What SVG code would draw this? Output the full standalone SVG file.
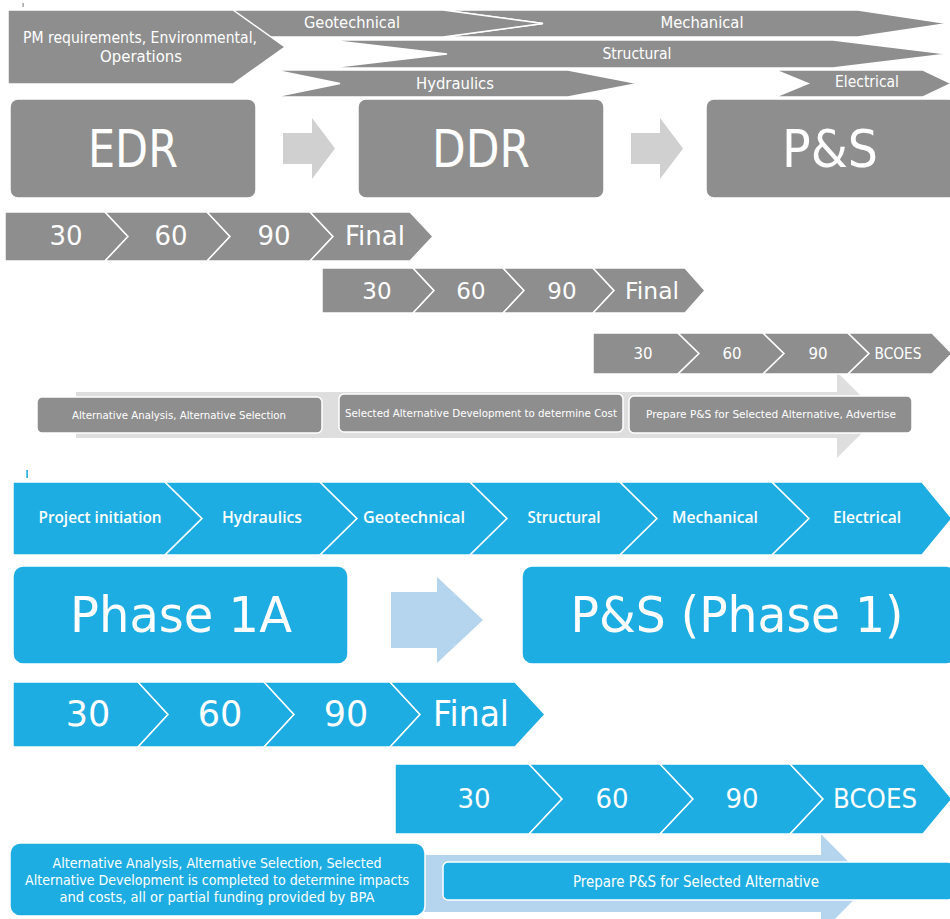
<svg xmlns="http://www.w3.org/2000/svg" width="950" height="919" viewBox="0 0 950 919">
<style>
.g{fill:#8e8e8e;stroke:#fff;stroke-width:1.5}
.b{fill:#1eade2;stroke:#fff;stroke-width:1.5}
.lg{fill:#d0d0d0}
.lg2{fill:#dedede}
.lb{fill:#b5d5ee}
text{font-family:"DejaVu Sans","Open Sans",sans-serif;fill:#fff;text-anchor:middle}
.bold{font-family:"Open Sans","DejaVu Sans",sans-serif;font-weight:600}
</style>
<rect width="950" height="919" fill="#fff"/>
<rect x="22.5" y="3" width="1.2" height="4" fill="#8e8e8e"/>
<rect x="26.3" y="470" width="1.6" height="8" fill="#1eade2"/>

<g id="connectors">
  <polygon class="lg" points="283,133 312,133 312,118 335,148.5 312,179 312,164 283,164"/>
  <polygon class="lg" points="631,133 660,133 660,118 683,148.5 660,179 660,164 631,164"/>
  <polygon class="lg2" points="76,392 837,392 837,372 880,415 837,458 837,438 76,438"/>
  <polygon class="lb" points="391,592 437,592 437,577 483,620 437,663 437,648 391,648"/>
  <polygon class="lb" points="200,855 821,855 821,834 870,883.5 821,933 821,912 200,912"/>
</g>

<g id="mechanical"><polygon class="g" points="443,10 858,10 948,23.5 858,37 443,37 543,23.5"/><text x="702" y="28" font-size="15" textLength="83" lengthAdjust="spacingAndGlyphs">Mechanical</text></g>
<g id="geotechnical"><polygon class="g" points="200,10 443,10 543,23.5 443,37 200,37"/><text x="352" y="28" font-size="15" textLength="96" lengthAdjust="spacingAndGlyphs">Geotechnical</text></g>
<g id="structural"><polygon class="g" points="328,40 833,40 948,54 833,68 328,68 447,54"/><text x="637" y="59" font-size="15" textLength="69" lengthAdjust="spacingAndGlyphs">Structural</text></g>
<g id="hydraulics"><polygon class="g" points="274,70 568,70 638,83.5 568,97 274,97 340,83.5"/><text x="455" y="89" font-size="15" textLength="78" lengthAdjust="spacingAndGlyphs">Hydraulics</text></g>
<g id="electrical"><polygon class="g" points="775,70 923,70 951,83.5 923,97 775,97 808,83.5"/><text x="867" y="87" font-size="15" textLength="64" lengthAdjust="spacingAndGlyphs">Electrical</text></g>
<g id="pm"><polygon class="g" points="8,10 233,10 285,47 233,84 8,84"/><text x="140" y="43" font-size="15" textLength="234" lengthAdjust="spacingAndGlyphs">PM requirements, Environmental,</text><text x="141" y="62" font-size="15" textLength="82" lengthAdjust="spacingAndGlyphs">Operations</text></g>

<g id="edr"><rect class="g" x="10" y="99" width="246" height="99" rx="8"/><text x="133" y="167" font-size="52" textLength="90" lengthAdjust="spacingAndGlyphs">EDR</text></g>
<g id="ddr"><rect class="g" x="358" y="99" width="246" height="99" rx="8"/><text x="481" y="167" font-size="52" textLength="98" lengthAdjust="spacingAndGlyphs">DDR</text></g>
<g id="ps-top"><rect class="g" x="706" y="99" width="250" height="99" rx="8"/><text x="830" y="167" font-size="52" textLength="96" lengthAdjust="spacingAndGlyphs">P&amp;S</text></g>

<g id="edr-30"><polygon class="g" points="5,212 105,212 128,236.5 105,261 5,261"/><text x="66" y="245" font-size="26">30</text></g>
<g id="edr-60"><polygon class="g" points="105,212 207,212 230,236.5 207,261 105,261 128,236.5"/><text x="171" y="245" font-size="26">60</text></g>
<g id="edr-90"><polygon class="g" points="207,212 310,212 333,236.5 310,261 207,261 230,236.5"/><text x="274" y="245" font-size="26">90</text></g>
<g id="edr-final"><polygon class="g" points="310,212 410,212 433,236.5 410,261 310,261 333,236.5"/><text x="375" y="245" font-size="26" textLength="60" lengthAdjust="spacingAndGlyphs">Final</text></g>

<g id="ddr-30"><polygon class="g" points="322,268 413,268 434,290.5 413,313 322,313"/><text x="377" y="299" font-size="23">30</text></g>
<g id="ddr-60"><polygon class="g" points="413,268 503,268 524,290.5 503,313 413,313 434,290.5"/><text x="471" y="299" font-size="23">60</text></g>
<g id="ddr-90"><polygon class="g" points="503,268 593,268 614,290.5 593,313 503,313 524,290.5"/><text x="562" y="299" font-size="23">90</text></g>
<g id="ddr-final"><polygon class="g" points="593,268 685,268 705,290.5 685,313 593,313 614,290.5"/><text x="652" y="299" font-size="23" textLength="54" lengthAdjust="spacingAndGlyphs">Final</text></g>

<g id="ps-30"><polygon class="g" points="593,333 678,333 699,353.5 678,374 593,374"/><text x="643" y="359" font-size="15">30</text></g>
<g id="ps-60"><polygon class="g" points="678,333 763,333 784,353.5 763,374 678,374 699,353.5"/><text x="732" y="359" font-size="15">60</text></g>
<g id="ps-90"><polygon class="g" points="763,333 848,333 869,353.5 848,374 763,374 784,353.5"/><text x="818" y="359" font-size="15">90</text></g>
<g id="ps-bcoes"><polygon class="g" points="848,333 932,333 952,353.5 932,374 848,374 869,353.5"/><text x="898" y="359" font-size="15" textLength="47" lengthAdjust="spacingAndGlyphs">BCOES</text></g>

<g id="alt-analysis"><rect class="g" x="37" y="397" width="285" height="36" rx="5"/><text x="179" y="419" font-size="11" textLength="214" lengthAdjust="spacingAndGlyphs">Alternative Analysis, Alternative Selection</text></g>
<g id="alt-dev"><rect class="g" x="339" y="394" width="284" height="38" rx="5"/><text x="481" y="417" font-size="11" textLength="272" lengthAdjust="spacingAndGlyphs">Selected Alternative Development to determine Cost</text></g>
<g id="prepare-adv"><rect class="g" x="629" y="396" width="283" height="37" rx="5"/><text x="771" y="418" font-size="11" textLength="250" lengthAdjust="spacingAndGlyphs">Prepare P&amp;S for Selected Alternative, Advertise</text></g>

<g id="b-init"><polygon class="b" points="13,482 165,482 202,518.5 165,555 13,555"/><text class="bold" x="100" y="523" font-size="17" textLength="123" lengthAdjust="spacingAndGlyphs">Project initiation</text></g>
<g id="b-hyd"><polygon class="b" points="165,482 320,482 357,518.5 320,555 165,555 202,518.5"/><text class="bold" x="262" y="523" font-size="17" textLength="80" lengthAdjust="spacingAndGlyphs">Hydraulics</text></g>
<g id="b-geo"><polygon class="b" points="320,482 470,482 507,518.5 470,555 320,555 357,518.5"/><text class="bold" x="414" y="523" font-size="17" textLength="102" lengthAdjust="spacingAndGlyphs">Geotechnical</text></g>
<g id="b-str"><polygon class="b" points="470,482 620,482 657,518.5 620,555 470,555 507,518.5"/><text class="bold" x="564" y="523" font-size="17" textLength="73" lengthAdjust="spacingAndGlyphs">Structural</text></g>
<g id="b-mech"><polygon class="b" points="620,482 772,482 809,518.5 772,555 620,555 657,518.5"/><text class="bold" x="715" y="523" font-size="17" textLength="86" lengthAdjust="spacingAndGlyphs">Mechanical</text></g>
<g id="b-elec"><polygon class="b" points="772,482 922,482 952,518.5 922,555 772,555 809,518.5"/><text class="bold" x="867" y="523" font-size="17" textLength="68" lengthAdjust="spacingAndGlyphs">Electrical</text></g>

<g id="phase1a"><rect class="b" x="13" y="566" width="335" height="98" rx="10"/><text x="181" y="632" font-size="50" textLength="222" lengthAdjust="spacingAndGlyphs">Phase 1A</text></g>
<g id="ps-phase1"><rect class="b" x="522" y="566" width="434" height="98" rx="10"/><text x="737" y="632" font-size="50" textLength="333" lengthAdjust="spacingAndGlyphs">P&amp;S (Phase 1)</text></g>

<g id="p1-30"><polygon class="b" points="13,682 138,682 168,714.5 138,747 13,747"/><text x="88" y="726" font-size="35">30</text></g>
<g id="p1-60"><polygon class="b" points="138,682 264,682 294,714.5 264,747 138,747 168,714.5"/><text x="220" y="726" font-size="35">60</text></g>
<g id="p1-90"><polygon class="b" points="264,682 390,682 420,714.5 390,747 264,747 294,714.5"/><text x="346" y="726" font-size="35">90</text></g>
<g id="p1-final"><polygon class="b" points="390,682 515,682 545,714.5 515,747 390,747 420,714.5"/><text x="471" y="726" font-size="35" textLength="76" lengthAdjust="spacingAndGlyphs">Final</text></g>

<g id="p2-30"><polygon class="b" points="395,764 529,764 562,799 529,834 395,834"/><text x="474" y="808" font-size="26">30</text></g>
<g id="p2-60"><polygon class="b" points="529,764 660,764 693,799 660,834 529,834 562,799"/><text x="612" y="808" font-size="26">60</text></g>
<g id="p2-90"><polygon class="b" points="660,764 790,764 823,799 790,834 660,834 693,799"/><text x="742" y="808" font-size="26">90</text></g>
<g id="p2-bcoes"><polygon class="b" points="790,764 923,764 952,799 923,834 790,834 823,799"/><text x="875" y="808" font-size="26" textLength="84" lengthAdjust="spacingAndGlyphs">BCOES</text></g>

<g id="alt-funding"><rect class="b" x="10" y="843" width="415" height="73" rx="10"/>
<text x="217" y="868" font-size="13.5" textLength="329" lengthAdjust="spacingAndGlyphs">Alternative Analysis, Alternative Selection, Selected</text>
<text x="217" y="885" font-size="13.5" textLength="384" lengthAdjust="spacingAndGlyphs">Alternative Development is completed to determine impacts</text>
<text x="217" y="902" font-size="13.5" textLength="315" lengthAdjust="spacingAndGlyphs">and costs, all or partial funding provided by BPA</text></g>
<g id="prepare-ps"><rect class="b" x="443" y="862" width="510" height="38" rx="5"/><text x="696" y="887" font-size="15" textLength="246" lengthAdjust="spacingAndGlyphs">Prepare P&amp;S for Selected Alternative</text></g>
</svg>
